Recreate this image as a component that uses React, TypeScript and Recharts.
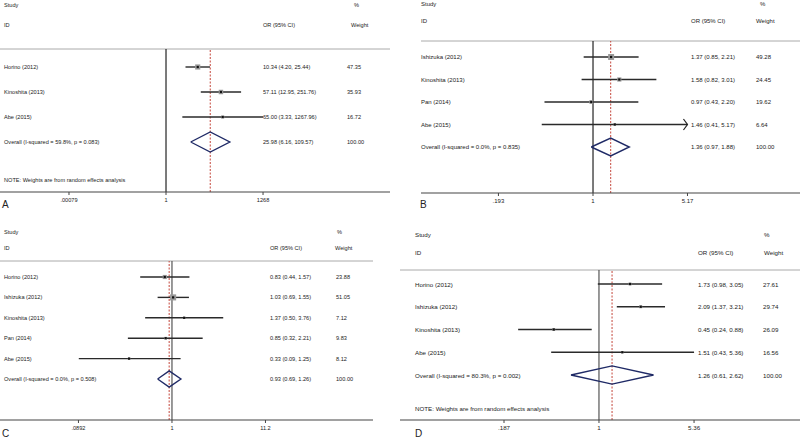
import React from 'react';
import { ComposedChart, Scatter, ErrorBar, XAxis, YAxis, ReferenceLine } from 'recharts';

// A
const studiesA = ['Horino (2012)', 'Kinoshita (2013)', 'Abe (2015)'];
const orA = [10.34, 57.11, 65.0];
const loA = [4.2, 12.95, 3.33];
const hiA = [25.44, 251.76, 1267.96];
const weightA = [47.35, 35.93, 16.72];
const arrowA = [false, false, false];
const overallA = [25.98, 6.16, 109.57];
const hetA = 'Overall  (I-squared = 59.8%, p = 0.083)';
const ticksA = [0.00079, 1, 1268];
const tickLabelsA = ['.00079', '1', '1268'];

// B
const studiesB = ['Ishizuka (2012)', 'Kinoshita (2013)', 'Pan (2014)', 'Abe (2015)'];
const orB = [1.37, 1.58, 0.97, 1.46];
const loB = [0.85, 0.82, 0.43, 0.41];
const hiB = [2.21, 3.01, 2.2, 5.17];
const weightB = [49.28, 24.45, 19.62, 6.64];
const arrowB = [false, false, false, true];
const overallB = [1.36, 0.97, 1.88];
const hetB = 'Overall  (I-squared = 0.0%, p = 0.835)';
const ticksB = [0.193, 1, 5.17];
const tickLabelsB = ['.193', '1', '5.17'];

// C
const studiesC = ['Horino (2012)', 'Ishizuka (2012)', 'Kinoshita (2013)', 'Pan (2014)', 'Abe (2015)'];
const orC = [0.83, 1.03, 1.37, 0.85, 0.33];
const loC = [0.44, 0.69, 0.5, 0.32, 0.09];
const hiC = [1.57, 1.55, 3.76, 2.21, 1.25];
const weightC = [23.88, 51.05, 7.12, 9.83, 8.12];
const arrowC = [false, false, false, false, false];
const overallC = [0.93, 0.69, 1.26];
const hetC = 'Overall  (I-squared = 0.0%, p = 0.508)';
const ticksC = [0.0892, 1, 11.2];
const tickLabelsC = ['.0892', '1', '11.2'];

// D
const studiesD = ['Horino (2012)', 'Ishizuka (2012)', 'Kinoshita (2013)', 'Abe (2015)'];
const orD = [1.73, 2.09, 0.45, 1.51];
const loD = [0.98, 1.37, 0.24, 0.43];
const hiD = [3.05, 3.21, 0.88, 5.36];
const weightD = [27.61, 29.74, 26.09, 16.56];
const arrowD = [false, false, false, false];
const overallD = [1.26, 0.61, 2.62];
const hetD = 'Overall  (I-squared = 80.3%, p = 0.002)';
const ticksD = [0.187, 1, 5.36];
const tickLabelsD = ['.187', '1', '5.36'];

const NOTE = 'NOTE: Weights are from random effects analysis';
const TXT = '#222';

const fmt = (v: number) => v.toFixed(2);

function Forest(props: any) {
  const { L, letter, studies, or, lo, hi, weight, arrows, overall, het, ticks, tickLabels, note } = props;
  const rows = studies.map((_: string, i: number) => ({
    x: or[i],
    y: i + 1,
    err: [or[i] - lo[i], hi[i] - or[i]],
    w: weight[i],
  }));
  const ov = studies.length + 1;
  const diamond = [
    { x: overall[1], y: ov },
    { x: overall[0], y: ov - 0.4 },
    { x: overall[2], y: ov },
    { x: overall[0], y: ov + 0.4 },
    { x: overall[1], y: ov },
  ];
  const arrowPts = rows.filter((_: any, i: number) => arrows[i]).map((r: any) => ({ x: r.x + r.err[1], y: r.y }));
  const yDom = [1 - (L.rowStart - L.sepY) / L.gap, 1 + (L.axisY - L.rowStart) / L.gap];
  const rowY = (r: number) => L.rowStart + (r - 1) * L.gap;

  const box = (p: any) => {
    const s = L.boxK * Math.sqrt(p.payload.w);
    return (
      <g>
        <rect x={p.cx - s / 2} y={p.cy - s / 2} width={s} height={s} fill="#999" />
        <rect x={p.cx - 1.1} y={p.cy - 1.1} width={2.2} height={2.2} fill="#111" />
      </g>
    );
  };
  const chevron = (p: any) => (
    <path d={`M${p.cx - 4},${p.cy - 5.5} L${p.cx},${p.cy} L${p.cx - 4},${p.cy + 5.5}`} fill="none" stroke="#222" strokeWidth={1.2} />
  );
  const none = () => <g />;

  const fs = L.font;
  return (
    <div style={{ position: 'absolute', left: L.left, top: L.top, width: L.w, height: L.h }}>
      <ComposedChart
        width={L.w}
        height={L.h}
        margin={{ top: L.sepY, right: L.w - L.plotRight, bottom: 0, left: L.plotLeft }}
      >
        <XAxis
          type="number"
          dataKey="x"
          scale="log"
          domain={L.domain}
          allowDataOverflow
          ticks={ticks}
          interval={0}
          height={L.h - L.axisY}
          tickSize={3}
          tickMargin={3}
          axisLine={{ stroke: '#444', strokeWidth: 1.2 }}
          tickLine={{ stroke: '#444' }}
          tick={{ fontSize: fs, fill: TXT }}
          tickFormatter={(v: number) => tickLabels[ticks.indexOf(v)] ?? String(v)}
        />
        <YAxis type="number" dataKey="y" domain={yDom} reversed hide allowDataOverflow width={0} />
        <ReferenceLine y={yDom[0]} stroke="#aaa" strokeWidth={1} />
        <ReferenceLine x={1} stroke={L.oneColor} strokeWidth={1.2} />
        <ReferenceLine x={overall[0]} stroke="#c4453a" strokeWidth={1} strokeDasharray="2 1.5" />
        <Scatter data={rows} shape={none} isAnimationActive={false}>
          <ErrorBar dataKey="err" direction="x" width={0} stroke="#2a2a2a" strokeWidth={1.4} />
        </Scatter>
        <Scatter data={rows} shape={box} isAnimationActive={false} />
        <Scatter
          data={diamond}
          shape={none}
          line={{ stroke: '#1f2a66', strokeWidth: 1.4, fill: 'none' }}
          lineType="joint"
          isAnimationActive={false}
        />
        {arrowPts.length > 0 && <Scatter data={arrowPts} shape={chevron} isAnimationActive={false} />}
      </ComposedChart>
      <svg
        width={L.w}
        height={L.h}
        style={{ position: 'absolute', left: 0, top: 0, pointerEvents: 'none' }}
        fontSize={fs}
        fill={TXT}
      >
        <text x={L.studyX} y={L.headY[0]} dominantBaseline="central">Study</text>
        <text x={L.studyX} y={L.headY[1]} dominantBaseline="central">ID</text>
        <text x={L.orX} y={L.headY[1]} dominantBaseline="central">OR (95% CI)</text>
        <text x={L.pctX} y={L.headY[0]} dominantBaseline="central">%</text>
        <text x={L.wHeadX} y={L.headY[1]} dominantBaseline="central">Weight</text>
        {studies.map((s: string, i: number) => (
          <g key={s}>
            <text x={L.studyX} y={rowY(i + 1)} dominantBaseline="central">{s}</text>
            <text x={L.orX} y={rowY(i + 1)} dominantBaseline="central">
              {`${fmt(or[i])} (${fmt(lo[i])}, ${fmt(hi[i])})`}
            </text>
            <text x={L.wX} y={rowY(i + 1)} dominantBaseline="central">{fmt(weight[i])}</text>
          </g>
        ))}
        <text x={L.studyX} y={rowY(ov)} dominantBaseline="central">{het}</text>
        <text x={L.orX} y={rowY(ov)} dominantBaseline="central">
          {`${fmt(overall[0])} (${fmt(overall[1])}, ${fmt(overall[2])})`}
        </text>
        <text x={L.wX} y={rowY(ov)} dominantBaseline="central">100.00</text>
        {note && (
          <text x={L.studyX} y={L.noteY} dominantBaseline="central">{NOTE}</text>
        )}
        <text x={L.letterX} y={L.letterY} fontSize={10} fill="#222" dominantBaseline="central">{letter}</text>
      </svg>
    </div>
  );
}

const layoutA = {
  left: 0, top: 0, w: 400, h: 220, plotLeft: 0, plotRight: 390,
  sepY: 49, rowStart: 67, gap: 25, axisY: 192, noteY: 180,
  domain: [4.91e-6, 1.456e7], font: 5.6, boxK: 0.75, oneColor: '#222',
  studyX: 4, orX: 263, wX: 347, pctX: 354, wHeadX: 351, headY: [5, 25], letterX: 2, letterY: 204,
};
const layoutB = {
  left: 400, top: 0, w: 400, h: 220, plotLeft: 21, plotRight: 400,
  sepY: 41, rowStart: 57, gap: 22.5, axisY: 193, noteY: 0,
  domain: [0.0502, 36.6], font: 6, boxK: 0.85, oneColor: '#222',
  studyX: 21, orX: 291, wX: 356, pctX: 360, wHeadX: 356, headY: [3.5, 21], letterX: 20, letterY: 204,
};
const layoutC = {
  left: 0, top: 220, w: 400, h: 219, plotLeft: 0, plotRight: 373,
  sepY: 41, rowStart: 57, gap: 20.4, axisY: 200, noteY: 0,
  domain: [0.01175, 180.3], font: 5.6, boxK: 0.85, oneColor: '#555',
  studyX: 4, orX: 270, wX: 336, pctX: 337, wHeadX: 335, headY: [12, 28], letterX: 2, letterY: 213,
};
const layoutD = {
  left: 400, top: 220, w: 400, h: 219, plotLeft: 0, plotRight: 400,
  sepY: 50, rowStart: 64, gap: 22.75, axisY: 200, noteY: 188,
  domain: [0.0298, 34.8], font: 6.2, boxK: 0.55, oneColor: '#555',
  studyX: 15, orX: 298, wX: 363, pctX: 364, wHeadX: 364, headY: [14, 32], letterX: 15, letterY: 213,
};

export default function App() {
  return (
    <div
      style={{
        position: 'absolute', left: 0, top: 0, width: 800, height: 439, background: '#fff', overflow: 'hidden',
        fontFamily: '"Liberation Sans", Arial, sans-serif',
      }}
    >
      <Forest L={layoutA} letter="A" studies={studiesA} or={orA} lo={loA} hi={hiA} weight={weightA} arrows={arrowA}
        overall={overallA} het={hetA} ticks={ticksA} tickLabels={tickLabelsA} note />
      <Forest L={layoutB} letter="B" studies={studiesB} or={orB} lo={loB} hi={hiB} weight={weightB} arrows={arrowB}
        overall={overallB} het={hetB} ticks={ticksB} tickLabels={tickLabelsB} note={false} />
      <Forest L={layoutC} letter="C" studies={studiesC} or={orC} lo={loC} hi={hiC} weight={weightC} arrows={arrowC}
        overall={overallC} het={hetC} ticks={ticksC} tickLabels={tickLabelsC} note={false} />
      <Forest L={layoutD} letter="D" studies={studiesD} or={orD} lo={loD} hi={hiD} weight={weightD} arrows={arrowD}
        overall={overallD} het={hetD} ticks={ticksD} tickLabels={tickLabelsD} note />
    </div>
  );
}
